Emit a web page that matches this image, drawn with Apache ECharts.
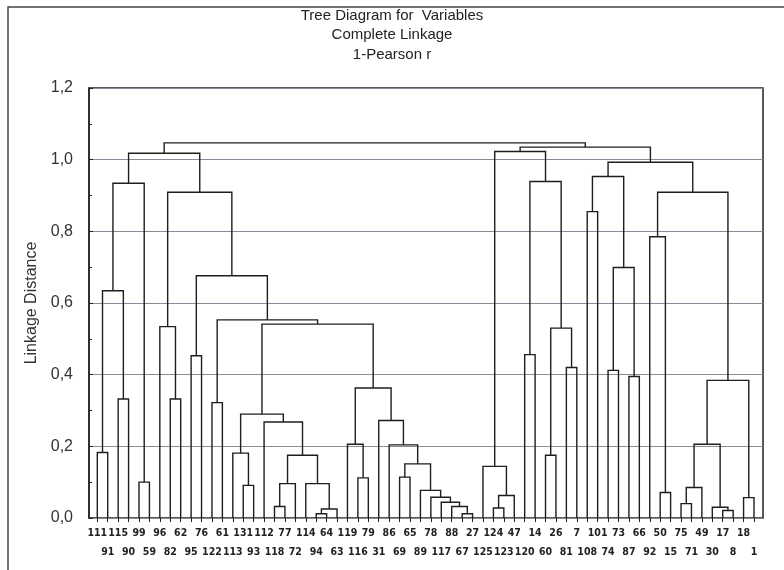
<!DOCTYPE html>
<html>
<head>
<meta charset="utf-8">
<script src="https://cdn.jsdelivr.net/npm/echarts@6/dist/echarts.min.js"></script>
<style>
  html, body { margin: 0; padding: 0; background: #fff; }
  #main { width: 784px; height: 570px; }
</style>
</head>
<body>
<div id="main"></div>
<script>
// leaf order along the bottom of the tree
const leaves = [
  '111', '91', '115', '90', '99', '59', '96', '82', '62', '95', '76', '122',
  '61', '113', '131', '93', '112', '118', '77', '72', '114', '94', '64', '63',
  '119', '116', '79', '31', '86', '69', '65', '89', '78', '117', '88', '67',
  '27', '125', '124', '123', '47', '120', '14', '60', '26', '81', '7', '108',
  '101', '74', '73', '87', '66', '92', '50', '15', '75', '71', '49', '30',
  '17', '8', '18', '1'
];

// joins: [child a, child b, linkage distance]; ids < 64 are leaves, 64 + k is the k-th join
const joins = [
  [0, 1, 0.183], [2, 3, 0.332], [64, 65, 0.634], [4, 5, 0.100],
  [66, 67, 0.934], [7, 8, 0.332], [6, 69, 0.534], [9, 10, 0.453],
  [11, 12, 0.322], [14, 15, 0.091], [13, 73, 0.181], [17, 18, 0.032],
  [75, 19, 0.096], [21, 22, 0.012], [77, 23, 0.025], [20, 78, 0.096],
  [76, 79, 0.175], [16, 80, 0.268], [74, 81, 0.290], [25, 26, 0.112],
  [24, 83, 0.206], [29, 30, 0.114], [35, 36, 0.012], [34, 86, 0.032],
  [33, 87, 0.044], [32, 88, 0.058], [31, 89, 0.077], [85, 90, 0.151],
  [28, 91, 0.204], [27, 92, 0.272], [84, 93, 0.363], [82, 94, 0.541],
  [72, 95, 0.553], [71, 96, 0.676], [70, 97, 0.909], [68, 98, 1.018],
  [38, 39, 0.028], [100, 40, 0.063], [37, 101, 0.144], [41, 42, 0.456],
  [43, 44, 0.175], [45, 46, 0.420], [104, 105, 0.530], [103, 106, 0.939],
  [102, 107, 1.023], [47, 48, 0.855], [49, 50, 0.412], [51, 52, 0.395],
  [110, 111, 0.699], [109, 112, 0.953], [54, 55, 0.071], [53, 114, 0.785],
  [56, 57, 0.040], [116, 58, 0.085], [60, 61, 0.021], [59, 118, 0.030],
  [117, 119, 0.206], [62, 63, 0.057], [120, 121, 0.384], [115, 122, 0.909],
  [113, 123, 0.993], [108, 124, 1.035], [99, 125, 1.047]
];

const yTicks = [0, 0.2, 0.4, 0.6, 0.8, 1.0, 1.2];

// dendrogram layout: a join sits midway between its two children
let pos = leaves.map((d, i) => i);
let hgt = leaves.map(() => 0);
let links = [];
joins.forEach(j => {
  let a = j[0], b = j[1];
  links.push([pos[a], hgt[a], pos[b], hgt[b], j[2]]);
  pos.push((pos[a] + pos[b]) / 2);
  hgt.push(j[2]);
});

let myChart = echarts.init(document.getElementById('main'));
myChart.setOption({
  animation: false,
  backgroundColor: '#fff',
  textStyle: { fontFamily: "'Liberation Sans', Arial, sans-serif" },
  title: {
    text: 'Tree Diagram for  Variables\nComplete Linkage\n1-Pearson r',
    left: 'center',
    top: 6,
    padding: 0,
    textStyle: { fontSize: 15, fontWeight: 'normal', lineHeight: 19.5, color: '#222' }
  },
  graphic: [{
    type: 'rect', shape: { x: 8, y: 7, width: 800, height: 600 },
    style: { fill: null, stroke: '#444', lineWidth: 1.5 }, silent: true
  }],
  grid: [
    { left: 89, right: 21, top: 88, bottom: 52, show: true, borderColor: '#222', borderWidth: 1.5, backgroundColor: 'transparent' },
    { left: 97.3, right: 30, top: 88, bottom: 52 }
  ],
  xAxis: [
    { gridIndex: 0, type: 'value', show: false, min: 0, max: 1 },
    {
      gridIndex: 1, type: 'value', position: 'top', min: 0, max: leaves.length - 1, interval: 1,
      axisLine: { show: false }, axisLabel: { show: false }, splitLine: { show: false },
      axisTick: { show: true, inside: true, length: 4, lineStyle: { color: '#222' } }
    },
    {
      gridIndex: 1, type: 'category', position: 'bottom', data: leaves, boundaryGap: false,
      axisLine: { show: false }, axisTick: { show: false },
      axisLabel: {
        interval: 0, margin: 6, fontSize: 10.5, lineHeight: 19, color: '#222',
        fontFamily: "'Liberation Sans Narrow', 'DejaVu Sans Condensed', sans-serif",
        fontWeight: 'bold',
        formatter: (v, i) => (i % 2 ? '\n' + v : v)
      }
    }
  ],
  yAxis: [
    {
      gridIndex: 0, type: 'value', min: yTicks[0], max: yTicks[yTicks.length - 1], interval: 0.2,
      name: 'Linkage Distance', nameLocation: 'middle', nameGap: 42, nameRotate: 90,
      nameTextStyle: { fontSize: 16, color: '#333' },
      axisLine: { show: true, lineStyle: { color: '#222', width: 1.5 } },
      axisTick: { show: true, inside: true, length: 4, lineStyle: { color: '#222' } },
      minorTick: { show: true, splitNumber: 2, length: 3, lineStyle: { color: '#222' } },
      axisLabel: {
        margin: 16, fontSize: 16, color: '#333',
        formatter: v => v.toFixed(1).replace('.', ',')
      },
      splitLine: { show: true, lineStyle: { color: '#8a8a98', width: 1 } }
    },
    { gridIndex: 1, type: 'value', show: false, min: 0, max: 1.2 }
  ],
  series: [{
    type: 'custom',
    xAxisIndex: 1,
    yAxisIndex: 1,
    data: links,
    encode: { x: [0, 2], y: [1, 3, 4] },
    renderItem: function (params, api) {
      let a = api.coord([api.value(0), api.value(1)]);
      let b = api.coord([api.value(0), api.value(4)]);
      let c = api.coord([api.value(2), api.value(4)]);
      let d = api.coord([api.value(2), api.value(3)]);
      return {
        type: 'polyline',
        shape: { points: [a, b, c, d] },
        style: { stroke: '#1e1e1e', lineWidth: 1.4, fill: null }
      };
    }
  }]
});
</script>
</body>
</html>
